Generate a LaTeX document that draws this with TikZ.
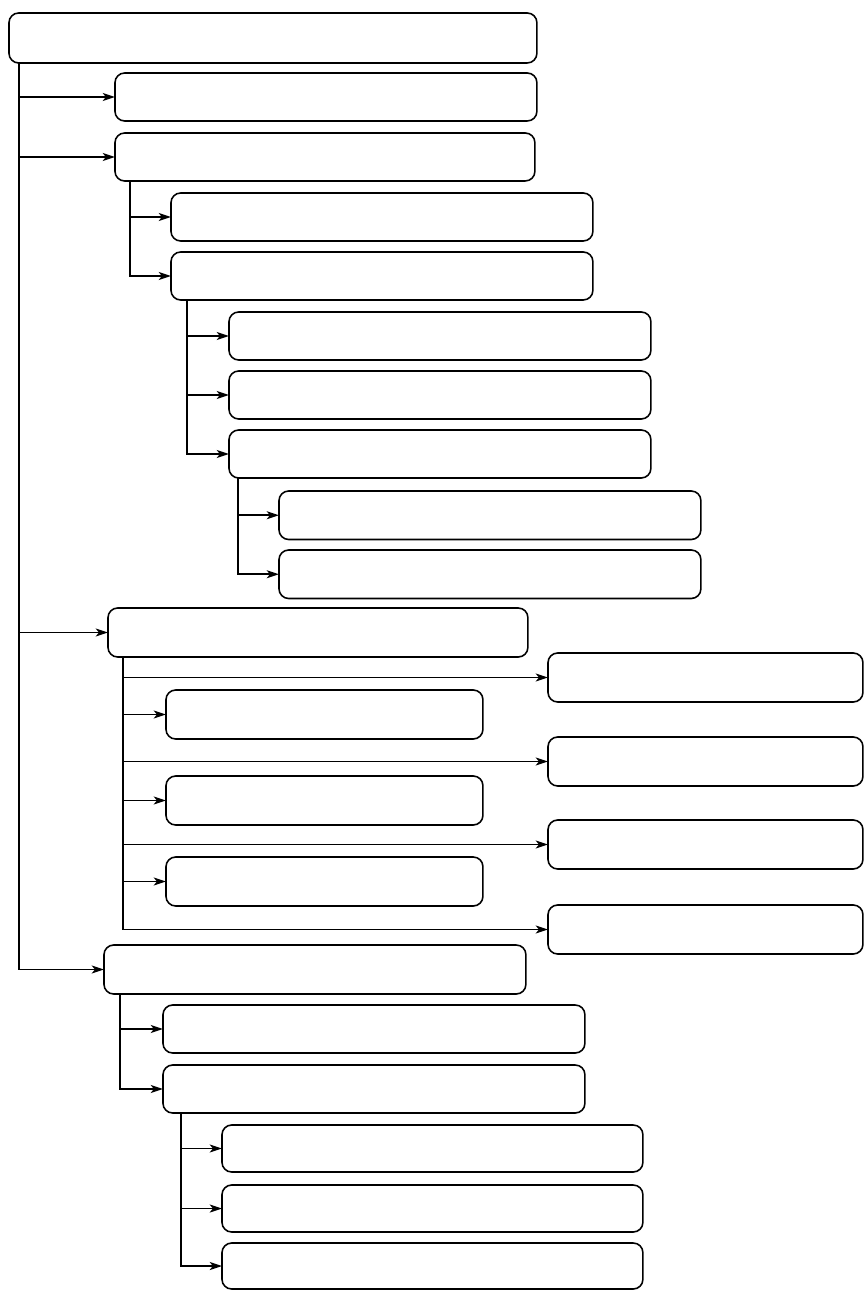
\documentclass[tikz,border=0pt]{standalone}
\usepackage{tikz}
\usetikzlibrary{arrows.meta}

\begin{document}
\begin{tikzpicture}[x=0.02cm, y=-0.02cm,
      >={Stealth[length=7pt, width=4.6pt, inset=1.8pt]},
      line width=0.9pt,
      blok/.style={draw, rounded corners=5.5pt, anchor=north west,
                   inner sep=0pt, outer sep=0pt,
                   minimum width=8.44cm, minimum height=0.96cm},
      blokkort/.style={blok, minimum width=6.34cm, minimum height=0.98cm}]
    \useasboundingbox (0,0) rectangle (866,1291);

    % --- root ---
    \node[blok, minimum width=10.56cm, minimum height=1.0cm] (root) at (9,13) {};

    % --- level 1 ---
    \node[blok] (a1) at (115,73) {};
    \node[blok, minimum width=8.40cm] (a2) at (115,133) {};
    \node[blok, minimum width=8.40cm, minimum height=0.98cm] (a3) at (108,608) {};
    \node[blok, minimum height=0.98cm] (a4) at (104,945) {};

    % --- under a2 ---
    \node[blok] (b1) at (171,193) {};
    \node[blok] (b2) at (171,252) {};
    \node[blok] (c1) at (229,312) {};
    \node[blok] (c2) at (229,371) {};
    \node[blok] (c3) at (229,430) {};
    \node[blok, minimum height=0.97cm] (d1) at (279,491) {};
    \node[blok, minimum height=0.97cm] (d2) at (279,550) {};

    % --- under a3 ---
    \node[blokkort, minimum width=6.30cm] (q1) at (548,653) {};
    \node[blokkort] (p1) at (166,690) {};
    \node[blokkort, minimum width=6.30cm] (q2) at (548,737) {};
    \node[blokkort] (p2) at (166,776) {};
    \node[blokkort, minimum width=6.30cm] (q3) at (548,820) {};
    \node[blokkort] (p3) at (166,857) {};
    \node[blokkort, minimum width=6.30cm] (q4) at (548,905) {};

    % --- under a4 ---
    \node[blok] (e1) at (163,1005) {};
    \node[blok] (e2) at (163,1065) {};
    \node[blok, minimum width=8.42cm, minimum height=0.94cm] (f1) at (222,1125) {};
    \node[blok, minimum width=8.42cm, minimum height=0.94cm] (f2) at (222,1185) {};
    \node[blok, minimum width=8.42cm, minimum height=0.92cm] (f3) at (222,1243) {};

    % stems
    \coordinate (trunk) at (19,0);
    \coordinate (stema2) at (130,0);
    \coordinate (stemb2) at (187,0);
    \coordinate (stemc3) at (238,0);
    \coordinate (stema3) at (123,0);
    \coordinate (stema4) at (120,0);
    \coordinate (steme2) at (181,0);

    % trunk -> level 1
    \draw[->] (trunk |- root.south) |- (a4.west);
    \foreach \n in {a1,a2,a3}
      \draw[->] (trunk |- \n.west) -- (\n.west);

    % a2 -> b1, b2
    \draw[->] (stema2 |- a2.south) |- (b2.west);
    \draw[->] (stema2 |- b1.west) -- (b1.west);

    % b2 -> c1..c3
    \draw[->] (stemb2 |- b2.south) |- (c3.west);
    \foreach \n in {c1,c2}
      \draw[->] (stemb2 |- \n.west) -- (\n.west);

    % c3 -> d1, d2
    \draw[->] (stemc3 |- c3.south) |- (d2.west);
    \draw[->] (stemc3 |- d1.west) -- (d1.west);

    % a3 -> p1..p3, q1..q4
    \draw[->] (stema3 |- a3.south) |- (q4.west);
    \foreach \n in {q1,q2,q3,p1,p2,p3}
      \draw[->] (stema3 |- \n.west) -- (\n.west);

    % a4 -> e1, e2
    \draw[->] (stema4 |- a4.south) |- (e2.west);
    \draw[->] (stema4 |- e1.west) -- (e1.west);

    % e2 -> f1..f3
    \draw[->] (steme2 |- e2.south) |- (f3.west);
    \foreach \n in {f1,f2}
      \draw[->] (steme2 |- \n.west) -- (\n.west);
\end{tikzpicture}
\end{document}
